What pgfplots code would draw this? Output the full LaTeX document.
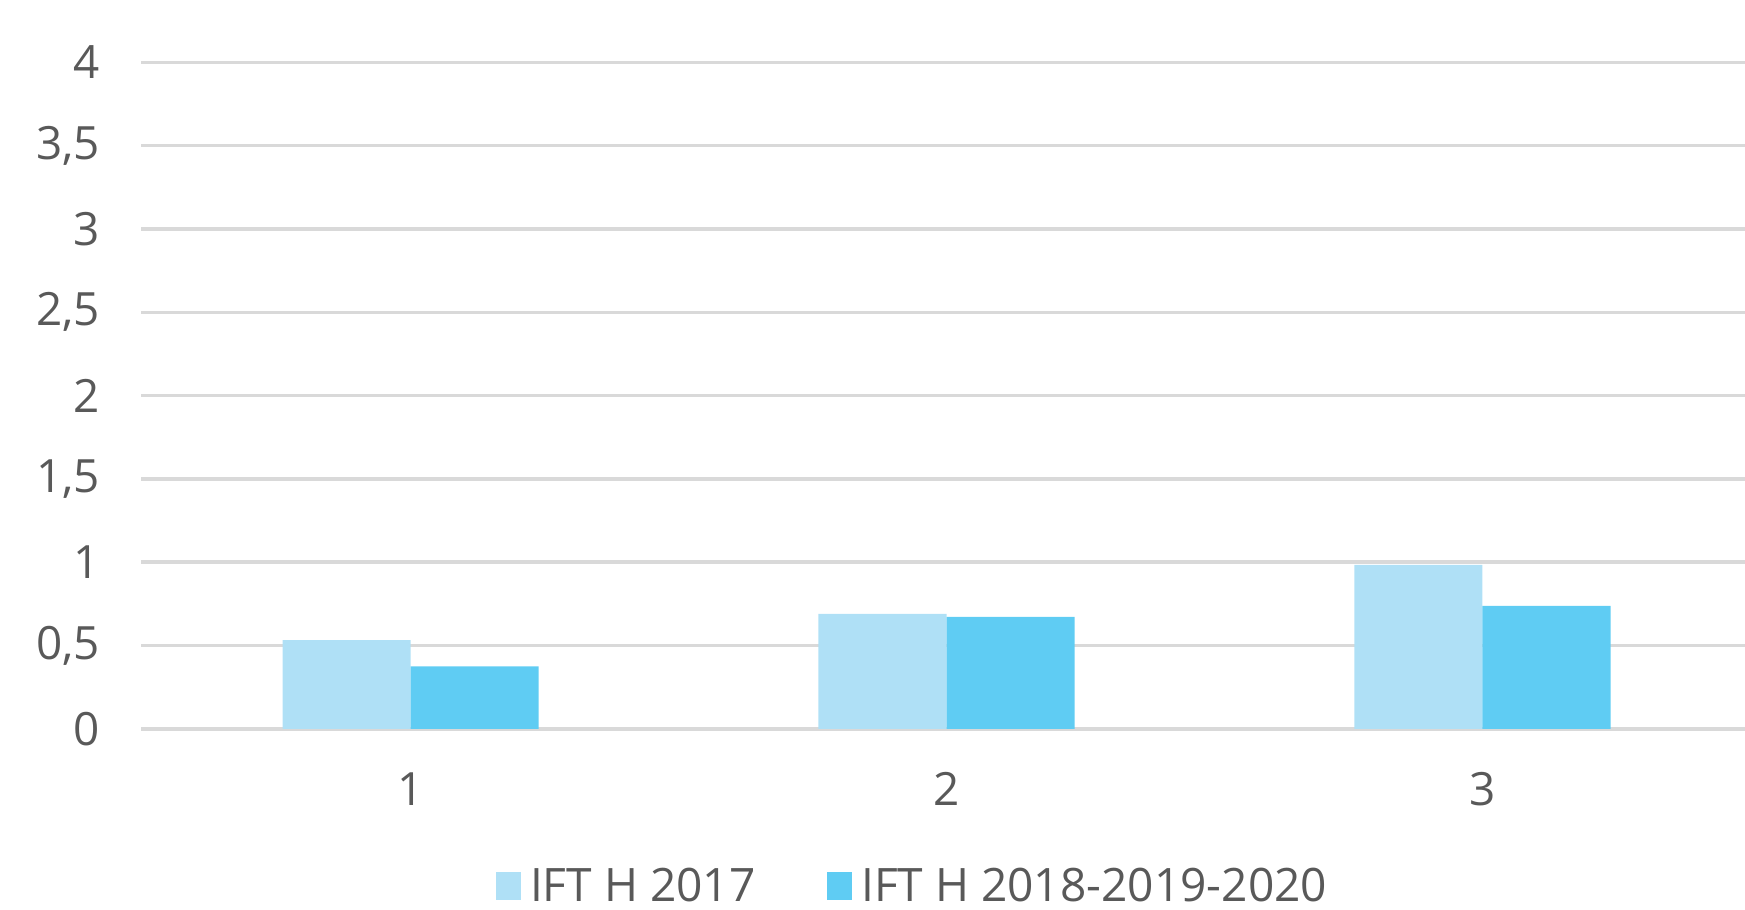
\documentclass[border=0pt]{standalone}
\usepackage{fontspec}
\setmainfont{Open Sans}
\usepackage{pgfplots}
\pgfplotsset{compat=1.18}
\definecolor{lightb}{RGB}{175,224,246}
\definecolor{darkb}{RGB}{95,204,243}
\definecolor{gridc}{RGB}{217,217,217}
\definecolor{txt}{RGB}{89,89,89}
\begin{document}
\begin{tikzpicture}
\begin{axis}[
  name=ax,
  scale only axis,
  width=720.5pt, height=299.5pt,
  xmin=0.4974, xmax=3.490, ymin=0, ymax=4,
  axis line style={draw=none},
  ybar, bar width=0.239,
  xtick={1,2,3}, xticklabels={1,2,3},
  ytick={0,0.5,1,1.5,2,2.5,3,3.5,4},
  yticklabels={0,{0,5},1,{1,5},2,{2,5},3,{3,5},4},
  major tick length=0pt,
  ymajorgrids,
  grid style={gridc, line width=1.6pt},
  tick label style={font=\fontsize{20.6}{24}\selectfont, text=txt},
  yticklabel style={xshift=-15pt},
  xticklabel style={yshift=-16pt},
  legend style={at={(0.4815,-0.236)}, anchor=center, draw=none,
    legend columns=2, font=\fontsize{20.7}{24}\selectfont, text=txt,
    nodes={inner ysep=0.5pt},
    /tikz/every even column/.append style={column sep=30pt}},
  legend image code/.code={\fill[#1] (0pt,-6pt) rectangle (11.5pt,6.5pt); \path (13.5pt,0pt);},
  clip=false,
]
\addplot[fill=lightb, draw=none, bar shift=-0.1195] coordinates {(1,0.533) (2,0.690) (3,0.985)};
\addplot[fill=darkb, draw=none, bar shift=0.1195] coordinates {(1,0.376) (2,0.672) (3,0.738)};
\legend{IFT H 2017, IFT H 2018-2019-2020}
\end{axis}
\pgfresetboundingbox
\path ([xshift=-63.5pt,yshift=-81pt]ax.south west) rectangle ([yshift=28pt]ax.north east);
\end{tikzpicture}
\end{document}
